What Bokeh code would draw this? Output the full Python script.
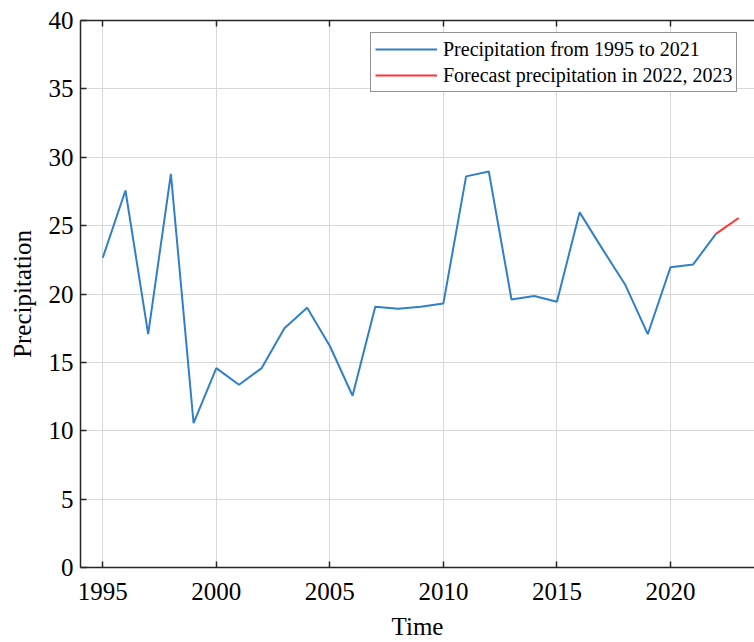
from bokeh.plotting import figure
from bokeh.models import LinearAxis, Range1d, Legend, LegendItem, FixedTicker
from bokeh.embed import file_html
from bokeh.resources import INLINE

years = [1995, 1996, 1997, 1998, 1999, 2000, 2001, 2002, 2003, 2004, 2005, 2006, 2007,
         2008, 2009, 2010, 2011, 2012, 2013, 2014, 2015, 2016, 2017, 2018, 2019, 2020,
         2021, 2022]
precip = [22.65, 27.57, 17.06, 28.79, 10.55, 14.58, 13.36, 14.58, 17.49, 19.0, 16.2, 12.56,
          19.07, 18.93, 19.07, 19.31, 28.6, 28.96, 19.6, 19.85, 19.44, 25.97, 23.3, 20.7,
          17.06, 21.96, 22.16, 24.4]
forecast_years = [2022, 2023]
forecast_values = [24.4, 25.56]

x_ticks = [1995, 2000, 2005, 2010, 2015, 2020]
y_ticks = [0, 5, 10, 15, 20, 25, 30, 35, 40]

FONT = "Liberation Serif"
AX = "#262626"

p = figure(width=754, height=642, output_backend="svg", toolbar_location=None,
           x_range=Range1d(1994.02, 2023.7), y_range=Range1d(0, 40),
           min_border_left=80, min_border_right=0, min_border_top=20, min_border_bottom=73,
           x_axis_label="Time", y_axis_label="Precipitation")
p.outline_line_color = None
p.background_fill_color = "white"
p.border_fill_color = "white"

for ax in (p.xaxis[0], p.yaxis[0]):
    ax.axis_line_color = AX
    ax.axis_line_width = 1.5
    ax.major_tick_line_color = AX
    ax.major_tick_line_width = 1.5
    ax.major_tick_in = 6
    ax.major_tick_out = 0
    ax.minor_tick_line_color = None
    ax.major_label_text_font = FONT
    ax.major_label_text_font_size = "25px"
    ax.major_label_text_color = "black"
    ax.axis_label_text_font = FONT
    ax.axis_label_text_font_size = "25px"
    ax.axis_label_text_font_style = "normal"
    ax.axis_label_text_color = "black"

p.xaxis[0].ticker = FixedTicker(ticks=x_ticks)
p.yaxis[0].ticker = FixedTicker(ticks=y_ticks)
p.xaxis[0].major_label_standoff = 15
p.xaxis[0].axis_label_standoff = 10
p.yaxis[0].major_label_standoff = 7
p.yaxis[0].axis_label_standoff = 10

top = LinearAxis(ticker=FixedTicker(ticks=x_ticks), axis_line_color=AX, axis_line_width=1.5,
                 major_tick_line_color=AX, major_tick_line_width=1.5,
                 major_tick_in=6, major_tick_out=0, minor_tick_line_color=None,
                 major_label_text_font_size="0px", major_label_text_color=None,
                 major_label_standoff=0)
p.add_layout(top, "above")

p.xgrid.ticker = FixedTicker(ticks=x_ticks)
p.ygrid.ticker = FixedTicker(ticks=y_ticks)
p.grid.grid_line_color = "#d8d8d8"
p.grid.grid_line_width = 1

r1 = p.line(years, precip, line_color="#2f80c8", line_width=2)
r2 = p.line(forecast_years, forecast_values, line_color="#ff3333", line_width=2)

legend = Legend(items=[LegendItem(label="Precipitation from 1995 to 2021", renderers=[r1]),
                       LegendItem(label="Forecast precipitation in 2022, 2023", renderers=[r2])],
                location=(290, 475))
legend.label_text_font = FONT
legend.label_text_font_size = "20px"
legend.label_text_color = "black"
legend.border_line_color = "#262626"
legend.border_line_width = 1.5
legend.background_fill_alpha = 1
legend.glyph_width = 62
legend.label_standoff = 6
legend.spacing = 2
legend.padding = 4
legend.label_height = 24
legend.glyph_height = 24
legend.margin = 0
p.add_layout(legend, "center")

open("out.html", "w").write(file_html(p, INLINE))
